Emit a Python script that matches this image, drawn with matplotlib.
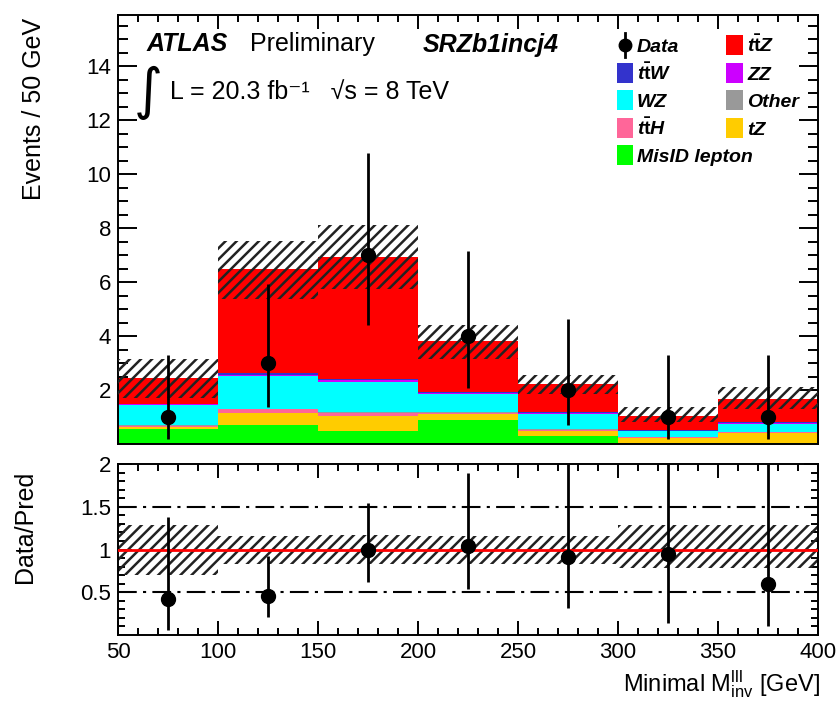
import matplotlib
matplotlib.use("Agg")
import matplotlib.pyplot as plt
from matplotlib.patches import Rectangle
from matplotlib.lines import Line2D
import numpy as np

plt.rcParams['font.family'] = ['Liberation Sans', 'DejaVu Sans']
plt.rcParams['mathtext.fontset'] = 'custom'
plt.rcParams['mathtext.rm'] = 'Liberation Sans'
plt.rcParams['mathtext.it'] = 'Liberation Sans:italic:bold'
plt.rcParams['mathtext.bf'] = 'Liberation Sans:bold'
plt.rcParams['hatch.linewidth'] = 1.8
plt.rcParams['hatch.color'] = '#222222'

# ---------------- data ----------------
bin_edges = [50, 100, 150, 200, 250, 300, 350, 400]
misid = [0.54, 0.70, 0.48, 0.89, 0.30, 0.05, 0.02]
tz    = [0.09, 0.46, 0.56, 0.21, 0.18, 0.16, 0.38]
tth   = [0.05, 0.12, 0.12, 0.06, 0.05, 0.05, 0.03]
other = [0.01, 0.02, 0.02, 0.01, 0.01, 0.01, 0.01]
wz    = [0.75, 1.22, 1.13, 0.69, 0.58, 0.21, 0.31]
zz    = [0.03, 0.05, 0.05, 0.03, 0.03, 0.02, 0.03]
ttw   = [0.03, 0.05, 0.05, 0.03, 0.02, 0.01, 0.02]
ttz   = [0.94, 3.86, 4.52, 1.89, 1.04, 0.54, 0.85]

data       = [1, 3, 7, 4, 2, 1, 1]
data_errlo = [0.83, 1.63, 2.58, 1.91, 1.29, 0.83, 0.83]
data_errhi = [2.30, 2.92, 3.77, 3.16, 2.64, 2.30, 2.30]

ratio      = [0.42, 0.46, 1.00, 1.04, 0.91, 0.95, 0.60]
ratio_lo   = [0.06, 0.21, 0.62, 0.54, 0.32, 0.14, 0.10]
ratio_hi   = [1.38, 0.92, 1.54, 1.89, 2.10, 3.10, 2.00]

band_lo    = [0.70, 0.83, 0.83, 0.83, 0.83, 0.78, 0.78]
band_hi    = [1.29, 1.16, 1.17, 1.16, 1.16, 1.29, 1.29]

samples = [
    ("MisID lepton", misid, '#00ff00'),
    ("tZ", tz, '#ffcc00'),
    ("ttH", tth, '#ff6699'),
    ("Other", other, '#999999'),
    ("WZ", wz, '#00ffff'),
    ("ZZ", zz, '#cc00ff'),
    ("ttW", ttw, '#3333cc'),
    ("ttZ", ttz, '#ff0000'),
]

# ---------------- figure ----------------
W, H = 839, 702
fig = plt.figure(figsize=(W / 100, H / 100), dpi=100)
fx = lambda x: x / W
fy = lambda y: 1 - y / H

L, R = 118, 818
ax = fig.add_axes([fx(L), fy(444), (R - L) / W, (444 - 15) / H])
rx = fig.add_axes([fx(L), fy(635), (R - L) / W, (635 - 464) / H])

edges = np.array(bin_edges, dtype=float)
left = edges[:-1]
widths = np.diff(edges)
centers = left + widths / 2

bottom = np.zeros(len(left))
for name, vals, col in samples:
    v = np.array(vals)
    ax.bar(left, v, width=widths, bottom=bottom, align='edge', color=col,
           linewidth=0, zorder=2)
    bottom = bottom + v
total = bottom

blo = total * np.array(band_lo)
bhi = total * np.array(band_hi)
ax.bar(left, bhi - blo, width=widths, bottom=blo, align='edge', fill=False,
       hatch='///', linewidth=0, edgecolor='#222222', zorder=3)

d = np.array(data, dtype=float)
ax.errorbar(centers, d, yerr=[data_errlo, data_errhi], fmt='o', color='black',
            ms=10, elinewidth=2, capsize=0, zorder=5)

ax.set_xlim(50, 400)
ax.set_ylim(0, (444 - 15) / 27)
ax.set_yticks([2, 4, 6, 8, 10, 12, 14])
ax.set_yticks(np.arange(0.5, 15.9, 0.5), minor=True)
ax.set_xticks(np.arange(50, 401, 50))
ax.set_xticks(np.arange(50, 401, 10), minor=True)
ax.tick_params(axis='both', which='both', direction='in', top=True, right=True,
               width=1.4, labelsize=16, pad=5)
ax.tick_params(axis='y', which='major', length=14)
ax.tick_params(axis='y', which='minor', length=7)
ax.tick_params(axis='x', which='major', length=10)
ax.tick_params(axis='x', which='minor', length=5)
ax.tick_params(axis='x', labelbottom=False)
for s in ax.spines.values():
    s.set_linewidth(1.4)

# ratio panel
rl = np.array(band_lo)
rh = np.array(band_hi)
rx.bar(left, rh - rl, width=widths, bottom=rl, align='edge', fill=False,
       hatch='///', linewidth=0, edgecolor='#222222', zorder=2)
rx.axhline(1.0, color='#ff0000', lw=2, zorder=3)
for yv in (0.5, 1.5):
    rx.axhline(yv, color='black', lw=1.5, linestyle=(0, (9, 3, 1.5, 3)), zorder=1)
r = np.array(ratio)
rx.errorbar(centers, r, yerr=[r - np.array(ratio_lo), np.array(ratio_hi) - r],
            fmt='o', color='black', ms=10, elinewidth=2, capsize=0, zorder=5)
rx.set_xlim(50, 400)
rx.set_ylim(0, 2)
rx.set_yticks([0.5, 1, 1.5, 2])
rx.set_yticklabels(['0.5', '1', '1.5', '2'])
rx.set_yticks(np.arange(0.1, 2.0, 0.1), minor=True)
rx.set_xticks(np.arange(50, 401, 50))
rx.set_xticks(np.arange(50, 401, 10), minor=True)
rx.tick_params(axis='both', which='both', direction='in', top=True, right=True,
               width=1.4, labelsize=16, pad=5)
rx.tick_params(axis='y', which='major', length=10)
rx.tick_params(axis='y', which='minor', length=5)
rx.tick_params(axis='x', which='major', length=10)
rx.tick_params(axis='x', which='minor', length=5)
for s in rx.spines.values():
    s.set_linewidth(1.4)

# axis titles
fig.text(fx(34), fy(109), "Events / 50 GeV", rotation=90, ha='center',
         va='center', fontsize=18)
fig.text(fx(25), fy(527), "Data/Pred", rotation=90, ha='center', va='center',
         fontsize=18)
fig.text(fx(820), fy(691), r"Minimal M$_{\rm inv}^{\rm lll}$ [GeV]", ha='right',
         va='baseline', fontsize=17)

# labels in plot
fig.text(fx(147), fy(51), "ATLAS", fontsize=18, fontweight='bold',
         fontstyle='italic', va='baseline')
fig.text(fx(250), fy(51), "Preliminary", fontsize=18, va='baseline')
fig.text(fx(423), fy(52), "SRZb1incj4", fontsize=18, fontweight='bold',
         fontstyle='italic', va='baseline')
fig.text(fx(134), fy(108), "\u222b", fontsize=40, va='baseline',
         family=['DejaVu Sans'])
fig.text(fx(170), fy(99), "L = 20.3 fb\u207b\u00b9   \u221as = 8 TeV",
         fontsize=18, va='baseline')

# legend
rows = [45, 73, 100, 128, 155]
col1 = [("Data", None), (r"t$\mathbf{\bar{t}}$W", '#3333cc'), ("WZ", '#00ffff'),
        (r"t$\mathbf{\bar{t}}$H", '#ff6699'), ("MisID lepton", '#00ff00')]
col2 = [(r"t$\mathbf{\bar{t}}$Z", '#ff0000'), ("ZZ", '#cc00ff'),
        ("Other", '#999999'), ("tZ", '#ffcc00')]
for (lab, col), yc in zip(col1, rows):
    if col is None:
        fig.add_artist(Line2D([fx(625), fx(625)], [fy(33), fy(57)], color='black',
                              lw=2, transform=fig.transFigure))
        fig.add_artist(Line2D([fx(625)], [fy(45)], marker='o', ms=9, color='black',
                              transform=fig.transFigure))
    else:
        fig.add_artist(Rectangle((fx(617), fy(yc + 10)), 16 / W, 20 / H,
                                 facecolor=col, edgecolor='none',
                                 transform=fig.transFigure))
    fig.text(fx(637), fy(yc + 7), lab, fontsize=14, fontweight='bold',
             fontstyle='italic', va='baseline')
for (lab, col), yc in zip(col2, rows):
    fig.add_artist(Rectangle((fx(726), fy(yc + 10)), 17 / W, 20 / H,
                             facecolor=col, edgecolor='none',
                             transform=fig.transFigure))
    fig.text(fx(747), fy(yc + 7), lab, fontsize=14, fontweight='bold',
             fontstyle='italic', va='baseline')

fig.savefig("out.png", dpi=100)
